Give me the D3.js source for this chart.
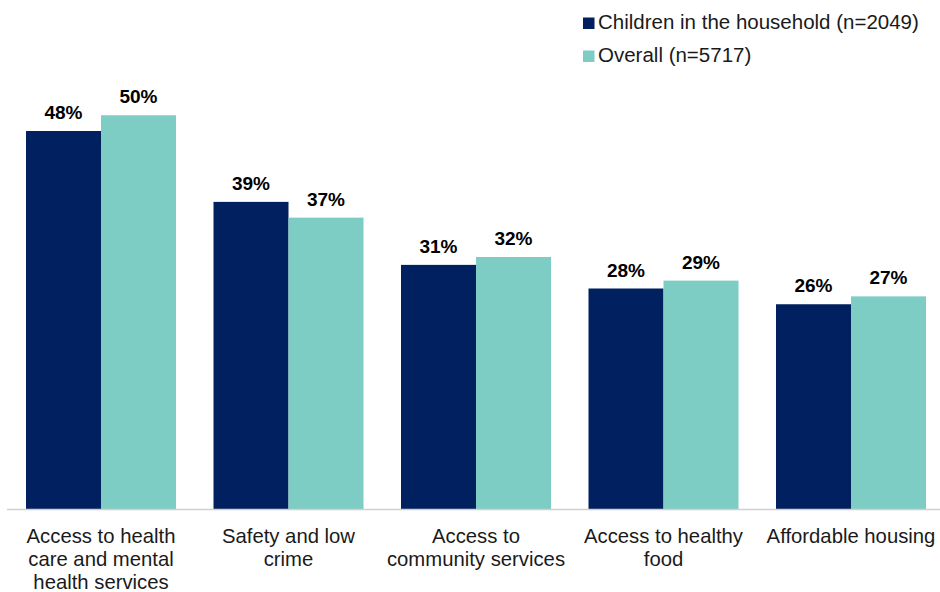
<!DOCTYPE html>
<html>
<head>
<meta charset="utf-8">
<script src="https://cdn.jsdelivr.net/npm/d3@7"></script>
<style>
  html, body { margin: 0; padding: 0; background: #fff; }
  svg { display: block; font-family: "Liberation Sans", Arial, Helvetica, sans-serif; }
</style>
</head>
<body>
<svg id="chart" width="940" height="592"></svg>
<script>
// Priority areas, share of respondents selecting each
const categories = [
  ["Access to health", "care and mental", "health services"],
  ["Safety and low", "crime"],
  ["Access to", "community services"],
  ["Access to healthy", "food"],
  ["Affordable housing"]
];
const seriesNames = ["Children in the household (n=2049)", "Overall (n=5717)"];
const childrenValues = [48, 39, 31, 28, 26];
const overallValues = [50, 37, 32, 29, 27];
const seriesColors = ["#00205F", "#7DCDC5"];

const svg = d3.select("#chart");
const W = 940, H = 592;
const baseY = 509;

const catKeys = categories.map(c => c.join(" "));
const x = d3.scaleBand()
  .domain(catKeys)
  .range([7.25, 944.75])
  .paddingInner(0.2)
  .paddingOuter(0.1);

const xSeries = d3.scaleBand()
  .domain([0, 1])
  .range([0, x.bandwidth()]);

const y = d3.scaleLinear()
  .domain([0, 60])
  .range([baseY, baseY - 60 * 7.875]);

const rows = catKeys.map((k, i) => ({
  key: k,
  lines: categories[i],
  values: [childrenValues[i], overallValues[i]]
}));

// Bars
const groups = svg.append("g").selectAll("g")
  .data(rows)
  .join("g")
  .attr("transform", d => `translate(${x(d.key)},0)`);

groups.selectAll("rect")
  .data(d => d.values.map((v, s) => ({ v, s })))
  .join("rect")
  .attr("x", d => xSeries(d.s))
  .attr("y", d => y(d.v))
  .attr("width", xSeries.bandwidth())
  .attr("height", d => y(0) - y(d.v))
  .attr("fill", d => seriesColors[d.s]);

// Value labels
groups.selectAll("text.val")
  .data(d => d.values.map((v, s) => ({ v, s })))
  .join("text")
  .attr("class", "val")
  .attr("x", d => xSeries(d.s) + xSeries.bandwidth() / 2)
  .attr("y", d => y(d.v) - 12)
  .attr("text-anchor", "middle")
  .attr("font-size", 19)
  .attr("font-weight", "bold")
  .attr("fill", "#000")
  .text(d => d.v + "%");

// Baseline axis
const xAxis = d3.axisBottom(x).tickSize(0).tickFormat("");
const axisG = svg.append("g")
  .attr("transform", `translate(0,${baseY + 0.5})`)
  .call(xAxis);
axisG.select(".domain")
  .attr("d", `M7,0H${W}`)
  .attr("stroke", "#D0D0D0")
  .attr("stroke-width", 1.5);

// Category labels (multi-line)
const catLabels = svg.append("g").selectAll("text")
  .data(rows)
  .join("text")
  .attr("x", d => x(d.key) + x.bandwidth() / 2)
  .attr("y", 542.5)
  .attr("text-anchor", "middle")
  .attr("font-size", 20.3)
  .attr("fill", "#1a1a1a");
catLabels.selectAll("tspan")
  .data(d => d.lines.map(l => ({ l, cx: x(d.key) + x.bandwidth() / 2 })))
  .join("tspan")
  .attr("x", d => d.cx)
  .attr("dy", (d, i) => i === 0 ? 0 : 23)
  .text(d => d.l);

// Legend
const legend = svg.append("g")
  .selectAll("g")
  .data(seriesNames)
  .join("g")
  .attr("transform", (d, i) => `translate(583,${17.5 + i * 33})`);
legend.append("rect")
  .attr("width", 11.5)
  .attr("height", 11.5)
  .attr("fill", (d, i) => seriesColors[i]);
legend.append("text")
  .attr("x", 15)
  .attr("y", 11.3)
  .attr("font-size", 20.5)
  .attr("fill", "#1a1a1a")
  .text(d => d);
</script>
</body>
</html>
